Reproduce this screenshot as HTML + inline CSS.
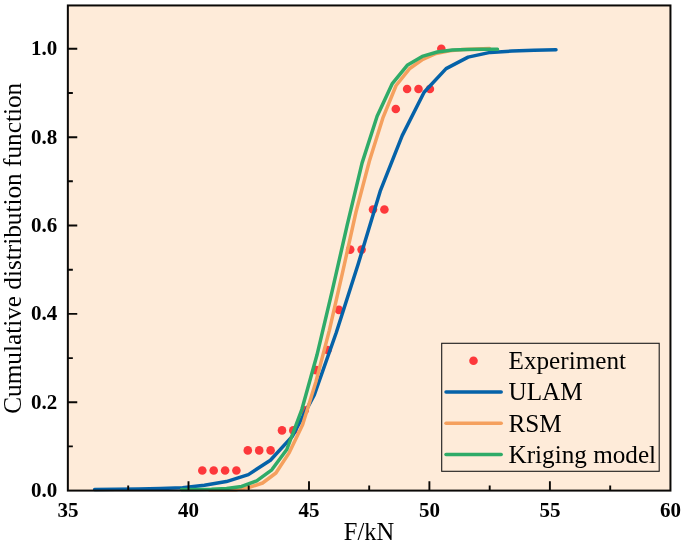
<!DOCTYPE html>
<html><head><meta charset="utf-8"><title>CDF</title>
<style>
html,body{margin:0;padding:0;background:#fff;}
svg{display:block;}
text{font-family:"Liberation Serif","Times New Roman",serif;fill:#000;}
.tk{font-weight:bold;font-size:21px;}
.ax{font-size:24.5px;}
.lg{font-size:25.2px;}
</style></head><body>
<svg width="685" height="543" viewBox="0 0 685 543">
<rect x="0" y="0" width="685" height="543" fill="#ffffff"/>
<rect x="67.85" y="5.45" width="602.6" height="485.15000000000003" fill="#feebd9"/>

<g>
<circle cx="202.3" cy="470.5" r="4.3" fill="#fd383b"/>
<circle cx="213.7" cy="470.5" r="4.3" fill="#fd383b"/>
<circle cx="225.1" cy="470.5" r="4.3" fill="#fd383b"/>
<circle cx="236.4" cy="470.5" r="4.3" fill="#fd383b"/>
<circle cx="247.8" cy="450.4" r="4.3" fill="#fd383b"/>
<circle cx="259.2" cy="450.4" r="4.3" fill="#fd383b"/>
<circle cx="270.6" cy="450.4" r="4.3" fill="#fd383b"/>
<circle cx="282.0" cy="430.4" r="4.3" fill="#fd383b"/>
<circle cx="293.3" cy="430.4" r="4.3" fill="#fd383b"/>
<circle cx="304.7" cy="410.3" r="4.3" fill="#fd383b"/>
<circle cx="316.1" cy="370.1" r="4.3" fill="#fd383b"/>
<circle cx="327.5" cy="350.0" r="4.3" fill="#fd383b"/>
<circle cx="338.9" cy="309.9" r="4.3" fill="#fd383b"/>
<circle cx="350.2" cy="249.6" r="4.3" fill="#fd383b"/>
<circle cx="361.6" cy="249.6" r="4.3" fill="#fd383b"/>
<circle cx="373.0" cy="209.5" r="4.3" fill="#fd383b"/>
<circle cx="384.4" cy="209.5" r="4.3" fill="#fd383b"/>
<circle cx="395.8" cy="109.0" r="4.3" fill="#fd383b"/>
<circle cx="407.1" cy="89.0" r="4.3" fill="#fd383b"/>
<circle cx="418.5" cy="89.0" r="4.3" fill="#fd383b"/>
<circle cx="429.9" cy="89.0" r="4.3" fill="#fd383b"/>
<circle cx="441.3" cy="48.8" r="4.3" fill="#fd383b"/>
</g>
<polyline points="94.6,489.4 116.6,489.2 138.5,489.0 160.5,488.6 182.5,487.8 204.4,485.3 226.4,481.6 248.4,474.6 270.4,460.3 292.3,436.4 314.3,394.9 336.3,332.5 358.2,264.0 380.2,191.2 402.2,135.6 424.1,92.2 446.1,68.6 468.1,57.1 490.1,52.4 512.0,51.1 534.0,50.3 556.0,49.8" fill="none" stroke="#0562a8" stroke-width="3.5" stroke-linejoin="round" stroke-linecap="round"/>
<polyline points="209.2,489.8 222.5,489.8 235.9,489.7 249.2,487.4 262.6,483.0 275.9,473.0 289.3,452.6 302.6,424.8 316.0,381.5 329.3,330.6 342.7,271.8 356.0,212.0 369.4,161.0 382.8,118.2 396.1,85.5 409.4,68.8 422.8,59.4 436.1,53.5 449.5,50.8 462.9,49.6 476.2,49.0 489.5,48.6" fill="none" stroke="#f5a05e" stroke-width="3.5" stroke-linejoin="round" stroke-linecap="round"/>
<polyline points="181.4,489.6 196.5,489.4 211.5,489.2 226.6,488.5 241.6,486.4 256.7,480.8 271.8,469.8 286.8,449.5 301.9,409.3 316.9,355.3 331.9,292.2 347.0,225.9 362.1,162.9 377.1,116.2 392.1,83.9 407.2,65.3 422.2,56.4 437.3,52.0 452.4,50.1 467.4,49.6 482.4,49.3 497.5,49.2" fill="none" stroke="#2fab68" stroke-width="3.5" stroke-linejoin="round" stroke-linecap="round"/>
<path d="M188.5,490.6 V481.3 M309.0,490.6 V481.3 M429.4,490.6 V481.3 M549.9,490.6 V481.3 M128.2,490.6 V485.6 M248.7,490.6 V485.6 M369.2,490.6 V485.6 M489.7,490.6 V485.6 M610.2,490.6 V485.6 M67.85,402.2 H77.25 M67.85,313.9 H77.25 M67.85,225.5 H77.25 M67.85,137.2 H77.25 M67.85,48.8 H77.25 M67.85,446.4 H72.85 M67.85,358.1 H72.85 M67.85,269.7 H72.85 M67.85,181.3 H72.85 M67.85,93.0 H72.85" stroke="#0a0806" stroke-width="1.9" fill="none"/>
<rect x="67.85" y="5.45" width="602.6" height="485.15000000000003" fill="none" stroke="#0a0806" stroke-width="2.0"/>
<text class="tk" x="68.0" y="517.3" text-anchor="middle">35</text>
<text class="tk" x="188.5" y="517.3" text-anchor="middle">40</text>
<text class="tk" x="309.0" y="517.3" text-anchor="middle">45</text>
<text class="tk" x="429.4" y="517.3" text-anchor="middle">50</text>
<text class="tk" x="549.9" y="517.3" text-anchor="middle">55</text>
<text class="tk" x="670.4" y="517.3" text-anchor="middle">60</text>
<text class="tk" x="57.3" y="497.0" text-anchor="end">0.0</text>
<text class="tk" x="57.3" y="408.6" text-anchor="end">0.2</text>
<text class="tk" x="57.3" y="320.3" text-anchor="end">0.4</text>
<text class="tk" x="57.3" y="231.9" text-anchor="end">0.6</text>
<text class="tk" x="57.3" y="143.6" text-anchor="end">0.8</text>
<text class="tk" x="57.3" y="55.2" text-anchor="end">1.0</text>
<text class="ax" x="369" y="540.3" text-anchor="middle">F/kN</text>
<text class="ax" style="font-size:25.25px" transform="translate(21,248.3) rotate(-90)" text-anchor="middle">Cumulative distribution function</text>
<rect x="441.7" y="343.3" width="217.5" height="128" fill="#feebd9" stroke="#1a1a1a" stroke-width="1.1"/>
<circle cx="473.5" cy="360.7" r="4.3" fill="#fd383b"/>
<line x1="446" y1="392.1" x2="501.2" y2="392.1" stroke="#0562a8" stroke-width="3.5" stroke-linecap="round"/>
<line x1="446" y1="423.2" x2="501.2" y2="423.2" stroke="#f5a05e" stroke-width="3.5" stroke-linecap="round"/>
<line x1="446" y1="454.4" x2="501.2" y2="454.4" stroke="#2fab68" stroke-width="3.5" stroke-linecap="round"/>
<text class="lg" x="508.5" y="369.2">Experiment</text>
<text class="lg" x="508.5" y="400.4">ULAM</text>
<text class="lg" x="508.5" y="431.6">RSM</text>
<text class="lg" x="508.5" y="462.8">Kriging model</text>
</svg></body></html>
